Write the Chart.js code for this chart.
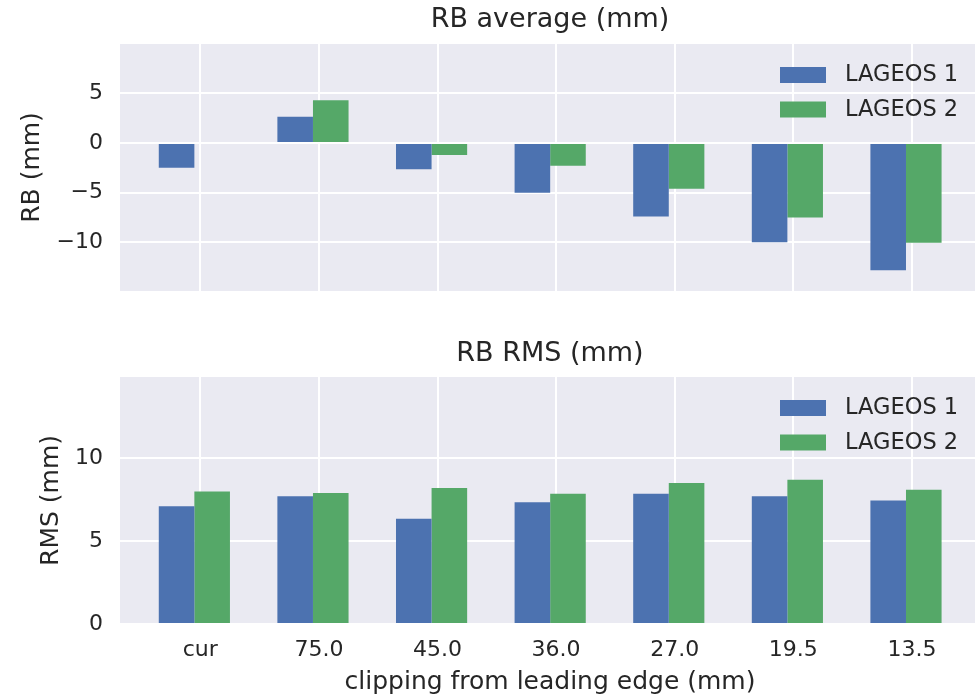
<!DOCTYPE html>
<html>
<head>
<meta charset="utf-8">
<script src="https://cdn.jsdelivr.net/npm/chart.js@4.4.0/dist/chart.umd.min.js"></script>
<style>
  html, body { margin: 0; padding: 0; background: #fff; overflow: hidden; width: 975px; height: 697px; }
  canvas { position: absolute; left: 0; }
  #rbAvg { top: 0; }
  #rbRms { top: 330px; }
</style>
</head>
<body>
<canvas id="rbAvg" width="980" height="330"></canvas>
<canvas id="rbRms" width="980" height="367"></canvas>
<script>
// clipping levels on the x axis
const clipLabels = ["cur", "75.0", "45.0", "36.0", "27.0", "19.5", "13.5"];
const seriesNames = ["LAGEOS 1", "LAGEOS 2"];

// RB average (mm)
const avgLageos1 = [-2.5, 2.65, -2.65, -5.0, -7.4, -10.0, -12.8];
const avgLageos2 = [null, 4.3, -1.2, -2.3, -4.6, -7.5, -10.05];

// RB RMS (mm)
const rmsLageos1 = [7.1, 7.7, 6.35, 7.35, 7.85, 7.7, 7.45];
const rmsLageos2 = [8.0, 7.9, 8.2, 7.85, 8.5, 8.7, 8.1];

const avgTicks = [-10, -5, 0, 5];
const rmsTicks = [0, 5, 10];

// the bar pairs sit a little left of each tick in the original plot
const barShift = -0.05;

const barColors = ["#4C72B0", "#55A868"];
const textColor = "#262626";
const fontFamily = "'DejaVu Sans', sans-serif";

// seaborn-ish grey panel behind the plot
const panelBg = {
  id: "panelBg",
  beforeDraw(chart) {
    const { ctx, chartArea: a } = chart;
    ctx.save();
    ctx.fillStyle = "#EAEAF2";
    ctx.fillRect(a.left, a.top, a.right - a.left, a.bottom - a.top);
    ctx.restore();
  }
};

// legend sitting inside the plot, upper right
const innerLegend = {
  id: "innerLegend",
  afterDraw(chart) {
    const { ctx, chartArea: a } = chart;
    ctx.save();
    ctx.font = "22.5px " + fontFamily;
    ctx.textBaseline = "middle";
    ctx.textAlign = "left";
    chart.data.datasets.forEach((ds, i) => {
      const y = a.top + 23 + i * 34.5;
      ctx.fillStyle = ds.backgroundColor;
      ctx.fillRect(a.right - 200, y, 46, 16);
      ctx.fillStyle = textColor;
      ctx.fillText(ds.label, a.right - 135, y + 8.5);
    });
    ctx.restore();
  }
};

function toPoints(values) {
  return values.map((v, i) => ({ x: i + barShift, y: v }));
}

function makeChart(canvasId, title, yTitle, yTitlePad, titlePad, s1, s2, yMin, yMax, yTicks, showX) {
  const ctx = document.getElementById(canvasId);
  return new Chart(ctx, {
    type: "bar",
    plugins: [panelBg, innerLegend],
    data: {
      datasets: [
        { label: seriesNames[0], data: toPoints(s1), backgroundColor: barColors[0] },
        { label: seriesNames[1], data: toPoints(s2), backgroundColor: barColors[1] }
      ]
    },
    options: {
      responsive: false,
      animation: false,
      layout: { padding: 0 },
      datasets: {
        bar: { categoryPercentage: 0.6, barPercentage: 1.0, borderWidth: 0 }
      },
      plugins: {
        legend: { display: false },
        tooltip: { enabled: false },
        title: { display: false }
      },
      scales: {
        x: {
          type: "linear",
          position: "bottom",
          offset: false,
          min: -0.677,
          max: 6.574,
          afterBuildTicks: s => { s.ticks = clipLabels.map((_, i) => ({ value: i })); },
          afterFit: s => { s.height = showX ? 73 : 39; },
          grid: { color: "#ffffff", lineWidth: 2, drawTicks: false, offset: false },
          border: { display: false },
          ticks: {
            display: showX,
            padding: 13,
            color: textColor,
            font: { family: fontFamily, size: 22 },
            callback: v => clipLabels[v]
          },
          title: {
            display: showX,
            text: "clipping from leading edge (mm)",
            color: textColor,
            font: { family: fontFamily, size: 25 },
            padding: { top: 0, bottom: 0 }
          }
        },
        xTop: {
          type: "linear",
          position: "top",
          offset: false,
          min: 0,
          max: 1,
          afterFit: s => { s.height = canvasId === "rbAvg" ? 44 : 47; },
          grid: { display: false, drawTicks: false },
          border: { display: false },
          ticks: { display: false },
          title: {
            display: true,
            text: title,
            color: textColor,
            font: { family: fontFamily, size: 27 },
            padding: { top: titlePad, bottom: 0 }
          }
        },
        y: {
          min: yMin,
          max: yMax,
          afterBuildTicks: s => { s.ticks = yTicks.map(v => ({ value: v })); },
          afterFit: s => { s.width = 120; },
          grid: { color: "#ffffff", lineWidth: 2, drawTicks: false },
          border: { display: false },
          ticks: {
            padding: 17,
            color: textColor,
            font: { family: fontFamily, size: 22 },
            callback: v => String(v).replace("-", "\u2212")
          },
          title: {
            display: true,
            text: yTitle,
            color: textColor,
            font: { family: fontFamily, size: 25 },
            padding: { top: yTitlePad, bottom: 0 }
          }
        }
      }
    }
  });
}

makeChart("rbAvg", "RB average (mm)", "RB (mm)", 17, 3.7,
  avgLageos1, avgLageos2, -14.9, 9.97, avgTicks, false);
makeChart("rbRms", "RB RMS (mm)", "RMS (mm)", 36, 7.3,
  rmsLageos1, rmsLageos2, 0, 14.9, rmsTicks, true);
</script>
</body>
</html>
